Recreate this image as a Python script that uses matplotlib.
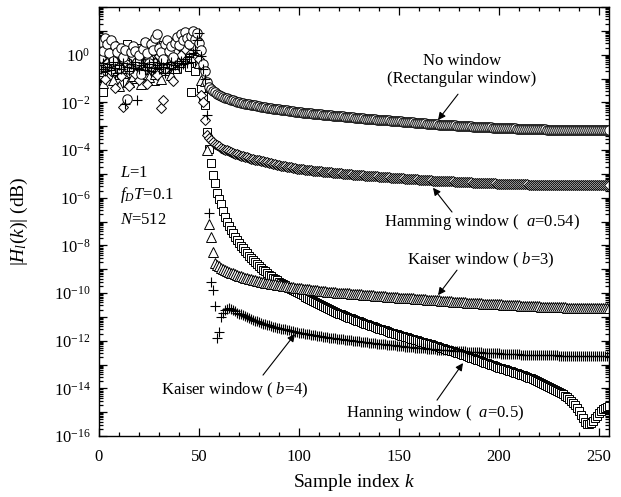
import numpy as np
import matplotlib
matplotlib.use("Agg")
import matplotlib.pyplot as plt
from matplotlib.ticker import MultipleLocator, LogLocator, FuncFormatter, NullFormatter

plt.rcParams.update({
    "font.family": ["Liberation Serif", "DejaVu Serif"],
    "mathtext.fontset": "custom",
    "mathtext.rm": "Liberation Serif",
    "mathtext.it": "Liberation Serif:italic",
    "mathtext.bf": "Liberation Serif:bold",
})

# sample index k = 0 .. 255 (first half of an N = 512 FFT)
k = np.arange(256)

# log10 |H_l(k)| for each window, one row of ten samples per line
no_window = [
    0.40, 0.55, 0.15, 0.70, 0.45, 0.05, 0.60, -0.25, 0.35, 0.10,
    -0.55, 0.30, -0.10, 0.20, -1.85, -0.60, 0.10, 0.35, 0.15, -0.30,
    0.00, -0.80, 0.25, 0.55, 0.05, -0.35, 0.45, 0.20, 0.70, 0.85,
    0.30, 0.10, -0.20, 0.45, 0.60, 0.15, 0.35, -0.10, 0.50, 0.75,
    0.40, 0.85, 0.60, 0.95, 0.70, 0.45, 0.80, 1.00, 0.65, 0.90,
    0.50, 0.20, -0.40, -0.70, -1.15, -1.35, -1.45, -1.52, -1.58, -1.63,
    -1.68, -1.72, -1.76, -1.80, -1.83, -1.86, -1.89, -1.92, -1.94, -1.97,
    -1.99, -2.01, -2.03, -2.05, -2.07, -2.08, -2.10, -2.12, -2.13, -2.15,
    -2.16, -2.18, -2.19, -2.20, -2.22, -2.23, -2.24, -2.26, -2.27, -2.28,
    -2.30, -2.31, -2.32, -2.33, -2.34, -2.36, -2.37, -2.38, -2.39, -2.40,
    -2.41, -2.42, -2.43, -2.44, -2.45, -2.46, -2.46, -2.47, -2.48, -2.49,
    -2.50, -2.51, -2.52, -2.52, -2.53, -2.54, -2.55, -2.56, -2.56, -2.57,
    -2.58, -2.59, -2.59, -2.60, -2.61, -2.62, -2.62, -2.63, -2.64, -2.65,
    -2.66, -2.66, -2.67, -2.68, -2.68, -2.69, -2.70, -2.70, -2.71, -2.72,
    -2.73, -2.73, -2.74, -2.75, -2.75, -2.76, -2.77, -2.77, -2.78, -2.79,
    -2.80, -2.80, -2.81, -2.82, -2.82, -2.83, -2.84, -2.84, -2.85, -2.86,
    -2.87, -2.87, -2.88, -2.88, -2.89, -2.90, -2.90, -2.91, -2.91, -2.92,
    -2.93, -2.93, -2.94, -2.94, -2.95, -2.96, -2.96, -2.97, -2.97, -2.98,
    -2.99, -2.99, -3.00, -3.00, -3.00, -3.01, -3.01, -3.02, -3.02, -3.03,
    -3.03, -3.04, -3.04, -3.04, -3.05, -3.05, -3.05, -3.06, -3.06, -3.07,
    -3.07, -3.07, -3.08, -3.08, -3.08, -3.08, -3.09, -3.09, -3.09, -3.10,
    -3.10, -3.10, -3.11, -3.11, -3.11, -3.11, -3.12, -3.12, -3.12, -3.12,
    -3.13, -3.13, -3.13, -3.13, -3.14, -3.14, -3.14, -3.14, -3.14, -3.15,
    -3.15, -3.15, -3.15, -3.15, -3.15, -3.16, -3.16, -3.16, -3.16, -3.16,
    -3.16, -3.16, -3.17, -3.17, -3.17, -3.17, -3.17, -3.17, -3.17, -3.17,
    -3.17, -3.17, -3.17, -3.17, -3.17, -3.17,
]

hamming = [
    -0.60, -0.15, 0.25, -1.00, -0.35, 0.10, -0.70, -0.20, -1.40, 0.05,
    -0.45, -0.90, -2.20, -0.30, 0.15, -1.30, -0.55, -0.10, -0.80, -0.25,
    -1.05, -0.40, 0.05, -0.65, -1.25, -0.15, -0.50, 0.20, -0.35, -0.85,
    -0.05, -2.25, -1.90, -0.60, -0.20, 0.30, -0.45, -1.10, 0.10, -0.30,
    0.45, 0.00, 0.60, 0.25, 0.75, 0.40, 0.55, 0.85, 0.30, 0.65,
    -0.20, -1.70, -2.00, -2.75, -3.35, -3.48, -3.58, -3.66, -3.73, -3.79,
    -3.85, -3.90, -3.94, -3.98, -4.02, -4.05, -4.09, -4.12, -4.15, -4.18,
    -4.21, -4.24, -4.26, -4.29, -4.31, -4.34, -4.36, -4.38, -4.40, -4.42,
    -4.44, -4.46, -4.48, -4.50, -4.52, -4.54, -4.56, -4.58, -4.60, -4.62,
    -4.64, -4.66, -4.67, -4.69, -4.70, -4.72, -4.73, -4.75, -4.76, -4.78,
    -4.79, -4.80, -4.81, -4.82, -4.83, -4.84, -4.85, -4.86, -4.87, -4.88,
    -4.89, -4.90, -4.91, -4.92, -4.93, -4.94, -4.94, -4.95, -4.96, -4.97,
    -4.98, -4.98, -4.99, -5.00, -5.01, -5.01, -5.02, -5.03, -5.04, -5.04,
    -5.05, -5.06, -5.06, -5.07, -5.08, -5.08, -5.09, -5.10, -5.10, -5.11,
    -5.12, -5.12, -5.13, -5.14, -5.14, -5.15, -5.16, -5.16, -5.17, -5.18,
    -5.18, -5.19, -5.19, -5.20, -5.21, -5.21, -5.22, -5.22, -5.23, -5.23,
    -5.24, -5.25, -5.25, -5.26, -5.26, -5.27, -5.27, -5.28, -5.28, -5.29,
    -5.29, -5.30, -5.30, -5.31, -5.31, -5.32, -5.32, -5.32, -5.33, -5.33,
    -5.34, -5.34, -5.35, -5.35, -5.35, -5.36, -5.36, -5.37, -5.37, -5.37,
    -5.38, -5.38, -5.38, -5.39, -5.39, -5.39, -5.40, -5.40, -5.40, -5.41,
    -5.41, -5.41, -5.42, -5.42, -5.42, -5.42, -5.43, -5.43, -5.43, -5.43,
    -5.44, -5.44, -5.44, -5.44, -5.44, -5.45, -5.45, -5.45, -5.45, -5.45,
    -5.45, -5.46, -5.46, -5.46, -5.46, -5.46, -5.46, -5.46, -5.46, -5.47,
    -5.47, -5.47, -5.47, -5.47, -5.47, -5.47, -5.47, -5.47, -5.47, -5.47,
    -5.47, -5.47, -5.47, -5.47, -5.47, -5.47, -5.47, -5.47, -5.47, -5.47,
    -5.47, -5.47, -5.47, -5.47, -5.47, -5.47,
]

hanning = [
    -0.20, 0.35, -1.55, 0.10, -0.50, 0.25, -0.90, 0.40, -0.30, 0.05,
    -1.20, -0.60, 0.20, -0.15, 0.45, -0.75, -0.40, 0.10, -1.00, 0.30,
    -0.25, 0.05, -0.55, 0.50, -0.85, 0.15, -0.35, 0.35, -1.10, -0.05,
    0.25, -0.70, 0.40, -0.20, 0.10, -0.45, 0.55, -0.15, 0.20, -0.60,
    0.35, -0.25, 0.65, -0.10, 0.45, -0.50, -1.55, 0.30, -0.70, 0.15,
    -0.35, -1.40, -1.75, -2.10, -3.24, -3.95, -4.55, -5.05, -5.40, -5.80,
    -6.05, -6.25, -6.55, -6.80, -7.00, -7.18, -7.35, -7.50, -7.64, -7.77,
    -7.90, -8.02, -8.13, -8.24, -8.34, -8.44, -8.53, -8.62, -8.71, -8.79,
    -8.87, -8.95, -9.02, -9.09, -9.16, -9.23, -9.29, -9.35, -9.41, -9.47,
    -9.53, -9.58, -9.63, -9.68, -9.73, -9.78, -9.83, -9.88, -9.92, -9.96,
    -10.00, -10.05, -10.10, -10.15, -10.20, -10.25, -10.29, -10.34, -10.38, -10.43,
    -10.47, -10.51, -10.55, -10.59, -10.63, -10.67, -10.71, -10.75, -10.79, -10.82,
    -10.86, -10.89, -10.93, -10.96, -11.00, -11.03, -11.06, -11.10, -11.13, -11.16,
    -11.19, -11.22, -11.25, -11.28, -11.31, -11.34, -11.37, -11.40, -11.43, -11.46,
    -11.49, -11.52, -11.55, -11.57, -11.60, -11.63, -11.66, -11.68, -11.71, -11.74,
    -11.76, -11.79, -11.81, -11.84, -11.86, -11.89, -11.91, -11.94, -11.96, -11.99,
    -12.01, -12.04, -12.06, -12.09, -12.11, -12.13, -12.16, -12.18, -12.21, -12.23,
    -12.26, -12.29, -12.31, -12.34, -12.37, -12.39, -12.42, -12.45, -12.47, -12.50,
    -12.53, -12.56, -12.59, -12.62, -12.65, -12.68, -12.71, -12.74, -12.77, -12.80,
    -12.83, -12.86, -12.89, -12.92, -12.95, -12.98, -13.01, -13.04, -13.07, -13.10,
    -13.13, -13.15, -13.18, -13.20, -13.23, -13.26, -13.28, -13.31, -13.34, -13.37,
    -13.40, -13.43, -13.46, -13.49, -13.52, -13.55, -13.58, -13.62, -13.66, -13.70,
    -13.74, -13.78, -13.82, -13.86, -13.90, -13.94, -13.98, -14.02, -14.06, -14.10,
    -14.15, -14.20, -14.25, -14.31, -14.37, -14.44, -14.52, -14.60, -14.70, -14.82,
    -14.95, -15.10, -15.25, -15.40, -15.48, -15.50, -15.45, -15.35, -15.25, -15.15,
    -15.05, -14.95, -14.88, -14.82, -14.77, -14.73,
]

kaiser3 = [
    -0.70, -0.30, -1.20, -0.50, 0.10, -0.85, -0.40, -1.05, -0.20, -0.65,
    -1.30, -0.35, -0.75, 0.05, -0.55, -1.15, -0.25, -0.90, -0.45, -0.10,
    -0.70, -1.25, -0.30, -0.60, 0.15, -0.95, -0.40, -0.15, -0.80, -0.50,
    -0.20, -1.00, -0.35, -0.65, 0.05, -0.45, -0.85, -0.25, -0.55, 0.20,
    -0.30, 0.10, -0.15, 0.35, 0.15, 0.50, 0.25, 0.70, 0.40, 0.55,
    -0.35, -1.05, -0.35, -1.10, -4.00, -7.10, -7.65, -8.30, -8.75, -8.82,
    -8.88, -8.93, -8.98, -9.03, -9.07, -9.11, -9.15, -9.18, -9.21, -9.24,
    -9.27, -9.30, -9.32, -9.35, -9.37, -9.40, -9.42, -9.44, -9.46, -9.48,
    -9.50, -9.52, -9.54, -9.56, -9.57, -9.59, -9.61, -9.62, -9.64, -9.65,
    -9.67, -9.68, -9.70, -9.71, -9.72, -9.74, -9.75, -9.76, -9.77, -9.78,
    -9.80, -9.81, -9.82, -9.83, -9.84, -9.85, -9.86, -9.87, -9.88, -9.89,
    -9.90, -9.91, -9.92, -9.93, -9.94, -9.94, -9.95, -9.96, -9.97, -9.98,
    -9.98, -9.99, -10.00, -10.01, -10.02, -10.02, -10.03, -10.04, -10.04, -10.05,
    -10.06, -10.06, -10.07, -10.08, -10.08, -10.09, -10.10, -10.10, -10.11, -10.12,
    -10.12, -10.13, -10.14, -10.14, -10.15, -10.16, -10.16, -10.17, -10.18, -10.18,
    -10.19, -10.20, -10.20, -10.21, -10.22, -10.22, -10.23, -10.23, -10.24, -10.25,
    -10.25, -10.26, -10.27, -10.27, -10.28, -10.28, -10.29, -10.30, -10.30, -10.31,
    -10.31, -10.32, -10.33, -10.33, -10.34, -10.34, -10.35, -10.36, -10.36, -10.37,
    -10.37, -10.38, -10.38, -10.39, -10.40, -10.40, -10.41, -10.41, -10.42, -10.42,
    -10.43, -10.43, -10.44, -10.44, -10.45, -10.45, -10.46, -10.46, -10.47, -10.47,
    -10.48, -10.48, -10.49, -10.49, -10.50, -10.50, -10.51, -10.51, -10.51, -10.52,
    -10.52, -10.53, -10.53, -10.54, -10.54, -10.54, -10.55, -10.55, -10.56, -10.56,
    -10.56, -10.57, -10.57, -10.57, -10.58, -10.58, -10.58, -10.59, -10.59, -10.59,
    -10.60, -10.60, -10.60, -10.60, -10.61, -10.61, -10.61, -10.61, -10.62, -10.62,
    -10.62, -10.62, -10.62, -10.63, -10.63, -10.63, -10.63, -10.63, -10.63, -10.64,
    -10.64, -10.64, -10.64, -10.64, -10.64, -10.64,
]

kaiser4 = [
    -0.45, -0.60, -0.35, -0.70, -0.50, -0.40, -0.65, -0.30, -0.55, -0.75,
    -0.45, -0.60, -0.35, -2.05, -0.50, -0.70, -0.40, -0.55, -0.30, -1.90,
    -0.60, -0.45, -0.35, -0.65, -0.50, -0.40, -0.70, -0.30, -0.55, -0.45,
    -0.60, -0.35, -0.50, -0.75, -0.40, -0.55, -0.30, -0.60, -0.45, -0.35,
    -0.50, -0.25, -0.40, -0.20, -0.35, -0.10, -0.30, 0.05, 0.20, 0.60,
    0.90, -0.05, -0.60, -1.00, -2.55, -6.65, -9.55, -9.88, -10.55, -11.90,
    -11.64, -11.00, -10.85, -10.72, -10.65, -10.63, -10.65, -10.72, -10.77, -10.82,
    -10.86, -10.90, -10.94, -10.98, -11.02, -11.06, -11.09, -11.13, -11.16, -11.19,
    -11.22, -11.25, -11.28, -11.31, -11.33, -11.36, -11.38, -11.41, -11.43, -11.45,
    -11.47, -11.49, -11.51, -11.53, -11.55, -11.57, -11.59, -11.60, -11.62, -11.64,
    -11.66, -11.67, -11.69, -11.70, -11.72, -11.73, -11.75, -11.76, -11.78, -11.79,
    -11.80, -11.82, -11.83, -11.84, -11.85, -11.87, -11.88, -11.89, -11.90, -11.92,
    -11.93, -11.94, -11.95, -11.96, -11.97, -11.98, -11.99, -12.00, -12.01, -12.02,
    -12.03, -12.04, -12.05, -12.06, -12.07, -12.08, -12.09, -12.10, -12.11, -12.12,
    -12.13, -12.14, -12.15, -12.16, -12.17, -12.18, -12.19, -12.19, -12.20, -12.21,
    -12.22, -12.23, -12.24, -12.25, -12.25, -12.26, -12.27, -12.28, -12.29, -12.29,
    -12.30, -12.31, -12.32, -12.32, -12.33, -12.34, -12.35, -12.35, -12.36, -12.37,
    -12.37, -12.38, -12.39, -12.39, -12.40, -12.40, -12.41, -12.42, -12.42, -12.43,
    -12.43, -12.44, -12.44, -12.45, -12.46, -12.46, -12.47, -12.47, -12.48, -12.48,
    -12.49, -12.49, -12.50, -12.50, -12.51, -12.51, -12.52, -12.52, -12.53, -12.53,
    -12.53, -12.54, -12.54, -12.55, -12.55, -12.55, -12.56, -12.56, -12.57, -12.57,
    -12.57, -12.58, -12.58, -12.58, -12.59, -12.59, -12.59, -12.60, -12.60, -12.60,
    -12.60, -12.61, -12.61, -12.61, -12.61, -12.62, -12.62, -12.62, -12.62, -12.62,
    -12.63, -12.63, -12.63, -12.63, -12.63, -12.63, -12.63, -12.63, -12.63, -12.63,
    -12.63, -12.63, -12.63, -12.63, -12.63, -12.63, -12.63, -12.63, -12.63, -12.63,
    -12.64, -12.64, -12.64, -12.64, -12.64, -12.64,
]

fig = plt.figure(figsize=(6.21, 4.97), dpi=100)
ax = fig.add_axes([0.1594, 0.1227, 0.8213, 0.8632])

style = dict(ls="none", mfc="white", mec="black", mew=0.7)
ax.plot(k, 10.0 ** np.asarray(hanning), marker="s", ms=6.3, **style)
ax.plot(k, 10.0 ** np.asarray(kaiser3), marker="^", ms=6.8, **style)
ax.plot(k, 10.0 ** np.asarray(hamming), marker="D", ms=5.0, **style)
ax.plot(k, 10.0 ** np.asarray(no_window), marker="o", ms=6.8, **style)
ax.plot(k, 10.0 ** np.asarray(kaiser4), marker="+", ms=7.0, ls="none",
        color="black", mew=0.8)

ax.set_yscale("log")
ax.set_xlim(0, 255)
ax.set_ylim(1e-16, 1e2)

ax.xaxis.set_major_locator(MultipleLocator(50))
ax.xaxis.set_minor_locator(MultipleLocator(10))
ax.yaxis.set_major_locator(LogLocator(base=10, numticks=40))
ax.yaxis.set_minor_locator(LogLocator(base=10, subs=np.arange(2, 10), numticks=40))
ax.yaxis.set_minor_formatter(NullFormatter())


def even_decades(v, pos):
    e = int(round(np.log10(v)))
    return r"$10^{%d}$" % e if e % 2 == 0 and e <= 0 else ""


ax.yaxis.set_major_formatter(FuncFormatter(even_decades))
ax.tick_params(which="both", direction="in", top=True, right=True,
               labelsize=12, width=0.9)
ax.tick_params(which="major", length=6)
ax.tick_params(which="minor", length=3)
ax.tick_params(axis="x", which="major", pad=9)
ax.tick_params(axis="y", which="major", pad=6)
for s in ax.spines.values():
    s.set_linewidth(1.0)

ax.set_xlabel(r"Sample index $k$", fontsize=14)
ax.set_ylabel(r"$|H_l(k)|$ (dB)", fontsize=14)
ax.xaxis.set_label_coords(0.5, -0.085)
ax.yaxis.set_label_coords(-0.135, 0.5)

# parameters
ax.text(0.041, 0.613, r"$L$=1", transform=ax.transAxes, fontsize=12, va="center")
ax.text(0.041, 0.562, r"$f_D T$=0.1", transform=ax.transAxes, fontsize=12, va="center")
ax.text(0.041, 0.503, r"$N$=512", transform=ax.transAxes, fontsize=12, va="center")

# curve labels with pointer arrows
arrow = dict(arrowstyle="-|>", color="black", lw=0.8, mutation_scale=11,
             shrinkA=0, shrinkB=0)
labels = [
    ("No window\n(Rectangular window)", (181.5, 0.23), (179.5, 2.2e-2), (169.5, 1.8e-3)),
    (r"Hamming window (  $a$=0.54)", (191.5, 1.0e-7), (176.5, 2.5e-7), (167.0, 2.6e-6)),
    (r"Kaiser window ( $b$=3)", (191.0, 2.4e-9), (179.0, 9.1e-10), (169.5, 8.1e-11)),
    (r"Kaiser window ( $b$=4)", (68.0, 8.5e-15), (82.0, 3.6e-14), (98.0, 1.9e-12)),
    (r"Hanning window (  $a$=0.5)", (168.0, 9.1e-16), (169.0, 3.2e-15), (182.0, 1.15e-13)),
]
for text, pos, start, tip in labels:
    ax.text(pos[0], pos[1], text, fontsize=12, ha="center", va="center",
            multialignment="center", linespacing=1.15)
    ax.annotate("", xy=tip, xytext=start, arrowprops=arrow)

fig.savefig("out.png", dpi=100)
